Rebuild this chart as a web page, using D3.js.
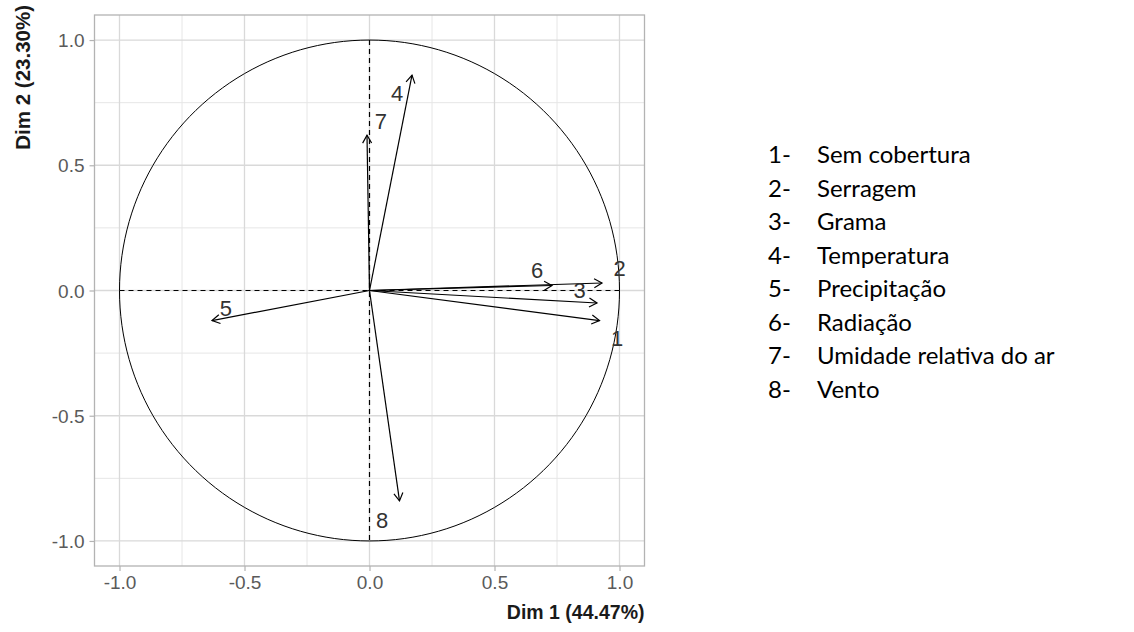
<!DOCTYPE html>
<html>
<head>
<meta charset="utf-8">
<script src="https://cdn.jsdelivr.net/npm/d3@7"></script>
<style>
  body { margin: 0; background: #fff; }
  svg { display: block; }
</style>
</head>
<body>
<div id="chart"></div>
<script>
// Coordenadas das variáveis (círculo de correlação)
const varIds = ["1", "2", "3", "4", "5", "6", "7", "8"];
const dim1 = [0.92, 0.93, 0.91, 0.17, -0.63, 0.73, -0.01, 0.12];
const dim2 = [-0.12, 0.03, -0.05, 0.86, -0.12, 0.02, 0.62, -0.84];
// Posição dos rótulos
const labelX = [0.99, 1.0, 0.84, 0.11, -0.575, 0.67, 0.045, 0.05];
const labelY = [-0.19, 0.09, 0.0, 0.79, -0.07, 0.08, 0.675, -0.915];

const ticks = [-1.0, -0.5, 0.0, 0.5, 1.0];
const minorTicks = [-0.75, -0.25, 0.25, 0.75];
const xTitle = "Dim 1 (44.47%)";
const yTitle = "Dim 2 (23.30%)";

const legendNums = ["1-", "2-", "3-", "4-", "5-", "6-", "7-", "8-"];
const legendNames = ["Sem cobertura", "Serragem", "Grama", "Temperatura",
  "Precipitação", "Radiação", "Umidade relativa do ar", "Vento"];

const width = 1134, height = 632;
const svg = d3.select("#chart").append("svg")
  .attr("width", width)
  .attr("height", height);

const x = d3.scaleLinear().domain([-1.1, 1.1]).range([94.5, 644.5]);
const y = d3.scaleLinear().domain([-1.1, 1.1]).range([566, 15]);

// grade
const grid = svg.append("g");
grid.selectAll(".minx").data(minorTicks).enter().append("line")
  .attr("x1", d => x(d)).attr("x2", d => x(d))
  .attr("y1", y(-1.1)).attr("y2", y(1.1))
  .attr("stroke", "#e6e6e6").attr("stroke-width", 1);
grid.selectAll(".miny").data(minorTicks).enter().append("line")
  .attr("y1", d => y(d)).attr("y2", d => y(d))
  .attr("x1", x(-1.1)).attr("x2", x(1.1))
  .attr("stroke", "#e6e6e6").attr("stroke-width", 1);
grid.selectAll(".majx").data(ticks).enter().append("line")
  .attr("x1", d => x(d)).attr("x2", d => x(d))
  .attr("y1", y(-1.1)).attr("y2", y(1.1))
  .attr("stroke", "#d9d9d9").attr("stroke-width", 1.3);
grid.selectAll(".majy").data(ticks).enter().append("line")
  .attr("y1", d => y(d)).attr("y2", d => y(d))
  .attr("x1", x(-1.1)).attr("x2", x(1.1))
  .attr("stroke", "#d9d9d9").attr("stroke-width", 1.3);

// borda do painel
svg.append("rect")
  .attr("x", x(-1.1)).attr("y", y(1.1))
  .attr("width", x(1.1) - x(-1.1)).attr("height", y(-1.1) - y(1.1))
  .attr("fill", "none").attr("stroke", "#b3b3b3").attr("stroke-width", 1.3);

// eixos
const fmt = d => d.toFixed(1);
const xAxis = d3.axisBottom(x).tickValues(ticks).tickFormat(fmt).tickSize(5).tickSizeOuter(0);
const yAxis = d3.axisLeft(y).tickValues(ticks).tickFormat(fmt).tickSize(5).tickSizeOuter(0);

const gx = svg.append("g").attr("transform", `translate(0,${y(-1.1)})`).call(xAxis);
const gy = svg.append("g").attr("transform", `translate(${x(-1.1)},0)`).call(yAxis);
[gx, gy].forEach(g => {
  g.attr("font-size", null).attr("font-family", null);
  g.select(".domain").remove();
  g.selectAll(".tick line").attr("stroke", "#b3b3b3").attr("stroke-width", 1.2);
  g.selectAll(".tick text")
    .attr("fill", "#5a5a5a")
    .style("font-family", "'Liberation Sans', Arial, sans-serif")
    .style("font-size", "19px");
});
gx.selectAll(".tick text").attr("dy", "0.95em").attr("y", 5);
gy.selectAll(".tick text").attr("x", -10).attr("dy", "0.35em");

// linhas tracejadas nos eixos
svg.append("line")
  .attr("x1", x(-1)).attr("x2", x(1)).attr("y1", y(0)).attr("y2", y(0))
  .attr("stroke", "#000").attr("stroke-width", 1.2).attr("stroke-dasharray", "5,4");
svg.append("line")
  .attr("x1", x(0)).attr("x2", x(0)).attr("y1", y(1)).attr("y2", y(-1))
  .attr("stroke", "#000").attr("stroke-width", 1.2).attr("stroke-dasharray", "5,4");

// círculo
const circ = d3.range(0, 361, 2).map(a => [Math.cos(a * Math.PI / 180), Math.sin(a * Math.PI / 180)]);
svg.append("path")
  .datum(circ)
  .attr("d", d3.line().x(d => x(d[0])).y(d => y(d[1])))
  .attr("fill", "none").attr("stroke", "#000").attr("stroke-width", 1);

// setas
const vars = varIds.map((id, i) => ({ id, x: dim1[i], y: dim2[i], lx: labelX[i], ly: labelY[i] }));
const arrows = svg.append("g");
vars.forEach(v => {
  const x1 = x(0), y1 = y(0), x2 = x(v.x), y2 = y(v.y);
  const ang = Math.atan2(y2 - y1, x2 - x1);
  const len = 9, spread = Math.PI / 6;
  arrows.append("line")
    .attr("x1", x1).attr("y1", y1).attr("x2", x2).attr("y2", y2)
    .attr("stroke", "#000").attr("stroke-width", 1.2);
  arrows.append("path")
    .attr("d", `M${x2 - len * Math.cos(ang - spread)},${y2 - len * Math.sin(ang - spread)}L${x2},${y2}L${x2 - len * Math.cos(ang + spread)},${y2 - len * Math.sin(ang + spread)}`)
    .attr("fill", "none").attr("stroke", "#000").attr("stroke-width", 1.2);
});

// rótulos
svg.append("g").selectAll("text").data(vars).enter().append("text")
  .attr("x", d => x(d.lx)).attr("y", d => y(d.ly))
  .attr("text-anchor", "middle").attr("dy", "0.36em")
  .attr("fill", "#333")
  .style("font-family", "'Liberation Sans', Arial, sans-serif")
  .style("font-size", "22px")
  .text(d => d.id);

// títulos dos eixos
svg.append("text")
  .attr("x", x(1.1)).attr("y", 619)
  .attr("text-anchor", "end")
  .attr("fill", "#1a1a1a")
  .style("font-family", "'Liberation Sans', Arial, sans-serif")
  .style("font-weight", "bold").style("font-size", "19.5px")
  .text(xTitle);
svg.append("text")
  .attr("transform", "translate(30,5) rotate(-90)")
  .attr("text-anchor", "end")
  .attr("fill", "#1a1a1a")
  .style("font-family", "'Liberation Sans', Arial, sans-serif")
  .style("font-weight", "bold").style("font-size", "20.5px")
  .text(yTitle);

// legenda
const leg = svg.append("g").attr("transform", "translate(768,155)");
leg.selectAll(".num").data(legendNums).enter().append("text")
  .attr("x", 0).attr("y", (d, i) => i * 33.5).attr("dy", "0.35em")
  .style("font-family", "Lato, 'Open Sans', sans-serif").style("font-size", "24px")
  .attr("fill", "#000").text(d => d);
leg.selectAll(".name").data(legendNames).enter().append("text")
  .attr("x", 49).attr("y", (d, i) => i * 33.5).attr("dy", "0.35em")
  .style("font-family", "Lato, 'Open Sans', sans-serif").style("font-size", "24px")
  .attr("fill", "#000").text(d => d);
</script>
</body>
</html>
